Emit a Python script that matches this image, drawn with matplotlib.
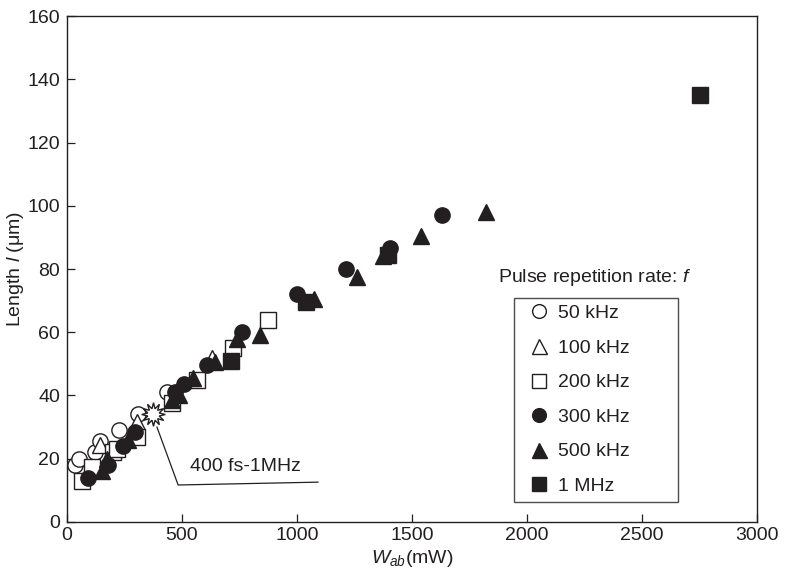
import matplotlib
matplotlib.use("Agg")
import matplotlib.pyplot as plt

plt.rcParams['font.family'] = ['Liberation Sans', 'DejaVu Sans']
plt.rcParams['mathtext.fontset'] = 'custom'
plt.rcParams['mathtext.rm'] = 'Liberation Sans'
plt.rcParams['mathtext.it'] = 'Liberation Sans:italic'

INK = '#231f20'
FS = 14

# absorbed power W_ab (mW) and structure length (um) for each repetition rate
x_50k = [35, 50, 120, 145, 225, 310, 435]
y_50k = [18, 20, 22, 25.5, 29, 34, 41]

x_100k = [145, 305, 630]
y_100k = [24.5, 31.5, 52]

x_200k = [64, 107, 200, 216, 303, 455, 564, 722, 874]
y_200k = [13, 17.5, 22, 23, 27, 37.5, 45, 55, 64]

x_300k = [92, 180, 244, 296, 470, 510, 607, 760, 1000, 1215, 1405, 1630]
y_300k = [14, 18, 24, 28.5, 41, 43.5, 49.5, 60, 72, 80, 86.5, 97]

x_500k = [150, 175, 265, 455, 485, 548, 643, 738, 840, 1075, 1260, 1375, 1540, 1820]
y_500k = [16, 20, 26, 38.5, 40, 45.5, 50.5, 58, 59, 70.5, 77.5, 84, 90.5, 98]

x_1M = [715, 1040, 1395, 2750]
y_1M = [51, 69.5, 84.5, 135]

# 400 fs pulses at 1 MHz
x_fs = [375]
y_fs = [34]

series = [
    (x_50k, y_50k, 'o', 'white', 11, '50 kHz'),
    (x_100k, y_100k, '^', 'white', 12, '100 kHz'),
    (x_200k, y_200k, 's', 'white', 11, '200 kHz'),
    (x_300k, y_300k, 'o', INK, 11, '300 kHz'),
    (x_500k, y_500k, '^', INK, 12, '500 kHz'),
    (x_1M, y_1M, 's', INK, 11, '1 MHz'),
]

fig = plt.figure(figsize=(7.85, 5.78), dpi=100)
ax = fig.add_axes([0.0854, 0.0969, 0.879, 0.8754])

handles = []
for xs, ys, mk, fc, ms, lab in series:
    h, = ax.plot(xs, ys, linestyle='none', marker=mk, markersize=ms,
                 markerfacecolor=fc, markeredgecolor=INK, markeredgewidth=1.0,
                 label=lab)
    handles.append(h)

ax.plot(x_fs, y_fs, linestyle='none', marker=(12, 1, 0), markersize=17,
        markerfacecolor='white', markeredgecolor=INK, markeredgewidth=1.0,
        zorder=5)

# leader line for the femtosecond point
ax.plot([391, 483, 1091], [30, 11.7, 12.6], color=INK, lw=0.9, zorder=4)
ax.text(535, 17.4, '400 fs-1MHz', fontsize=FS, va='center', ha='left',
        color=INK)

ax.set_xlim(0, 3000)
ax.set_ylim(0, 160)
ax.set_xticks(range(0, 3001, 500))
ax.set_yticks(range(0, 161, 20))
ax.tick_params(direction='in', length=6, width=0.9, labelsize=FS,
               colors=INK)
ax.tick_params(axis='y', pad=5)
ax.tick_params(axis='x', pad=3.5)
for sp in ax.spines.values():
    sp.set_color(INK)
    sp.set_linewidth(1.0)

ax.set_xlabel(r'$W_{ab}$(mW)', fontsize=FS, color=INK, labelpad=3)
ax.set_ylabel(r'Length $l$ (μm)', fontsize=FS, color=INK, labelpad=1)

ax.text(0.6246, 0.484, r'Pulse repetition rate: $f$', transform=ax.transAxes,
        fontsize=FS, va='center', ha='left', color=INK)

leg = ax.legend(handles=handles, loc='upper left',
                bbox_to_anchor=(0.648, 0.0435, 0.238, 0.3995), mode='expand',
                borderaxespad=0, fontsize=FS, frameon=True, fancybox=False,
                borderpad=0.35, handlelength=1.9, handletextpad=0.0,
                labelspacing=0.87, markerscale=0.9)
leg.get_frame().set_edgecolor(INK)
leg.get_frame().set_linewidth(1.0)
for t in leg.get_texts():
    t.set_color(INK)

fig.savefig('out.png', dpi=100)
